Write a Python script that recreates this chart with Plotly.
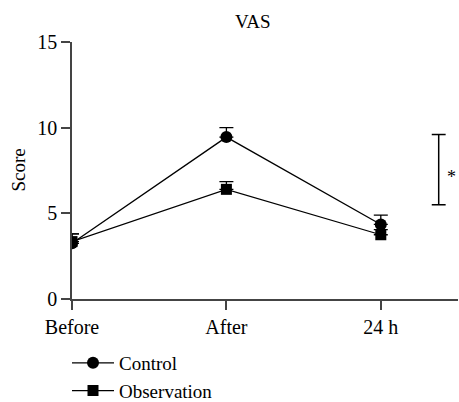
import plotly.graph_objects as go

categories = ["Before", "After", "24 h"]
control = [3.25, 9.45, 4.35]
control_err = [0.55, 0.55, 0.55]
observation = [3.35, 6.4, 3.75]
observation_err = [0.45, 0.45, 0.3]
yticks = [0, 5, 10, 15]

xpos = list(range(len(categories)))
font = "Liberation Serif, Times New Roman, serif"

fig = go.Figure()
fig.add_trace(go.Scatter(
    x=xpos, y=control, name="Control", mode="lines+markers",
    line=dict(color="black", width=1.3),
    marker=dict(symbol="circle", size=12, color="black"),
    error_y=dict(type="data", array=control_err, arrayminus=[0, 0, 0], symmetric=False,
                 color="black", thickness=1.3, width=7),
))
fig.add_trace(go.Scatter(
    x=xpos, y=observation, name="Observation", mode="lines+markers",
    line=dict(color="black", width=1.3),
    marker=dict(symbol="square", size=11, color="black"),
    error_y=dict(type="data", array=observation_err, arrayminus=[0, 0, 0], symmetric=False,
                 color="black", thickness=1.3, width=7),
))

# significance bracket
bx = 2.375
fig.add_shape(type="line", xref="x", yref="y", x0=bx, x1=bx, y0=5.5, y1=9.6,
              line=dict(color="black", width=1.5))
for yy in (5.5, 9.6):
    fig.add_shape(type="line", xref="x", yref="y", x0=bx - 0.045, x1=bx + 0.045, y0=yy, y1=yy,
                  line=dict(color="black", width=1.5))
fig.add_annotation(x=bx + 0.086, y=7.1, xref="x", yref="y", text="*", showarrow=False,
                   font=dict(size=18, color="black", family=font))

fig.add_annotation(x=0.47, y=(299 - 21) / 257, xref="paper", yref="paper", yanchor="middle",
                   text="VAS", showarrow=False, font=dict(size=19, color="black", family=font))
fig.add_annotation(x=(18 - 72) / 386, y=0.5, xref="paper", yref="paper", xanchor="center",
                   yanchor="middle", textangle=-90, text="Score", showarrow=False,
                   font=dict(size=19, color="black", family=font))

fig.update_layout(
    width=459, height=402,
    margin=dict(l=72, r=1, t=42, b=103, autoexpand=False),
    paper_bgcolor="white", plot_bgcolor="white",
    font=dict(family=font, size=20, color="black"),
    showlegend=True,
    legend=dict(x=-5 / 386, xanchor="left", y=-0.175, yanchor="top", itemwidth=42,
                bgcolor="rgba(0,0,0,0)", font=dict(size=19, family=font)),
)
fig.update_xaxes(range=[0, 2.5], tickvals=xpos, ticktext=categories, showgrid=False,
                 zeroline=False, showline=True, linecolor="#444", linewidth=1.5,
                 ticks="outside", ticklen=9, tickwidth=1.5, tickcolor="#444", automargin=False,
                 tickfont=dict(size=20, family=font, color="black"))
fig.update_yaxes(range=[0, 15], tickvals=yticks, showgrid=False, zeroline=False,
                 showline=True, linecolor="#444", linewidth=1.5, automargin=False,
                 ticks="outside", ticklen=9, tickwidth=1.5, tickcolor="#444",
                 tickfont=dict(size=20, family=font, color="black"))

fig.write_html("out.html", config={"displayModeBar": False},
               post_script="document.body.style.margin='0';")
